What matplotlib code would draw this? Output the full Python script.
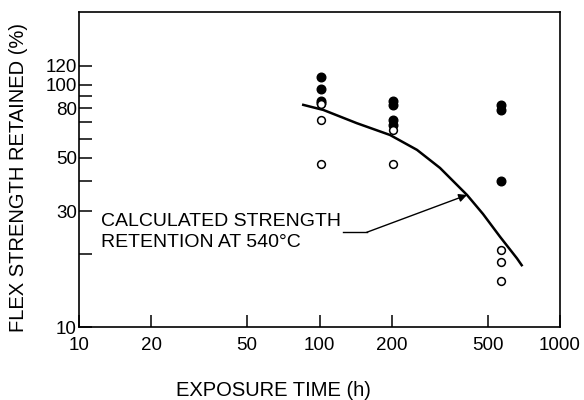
import matplotlib
matplotlib.use("Agg")
import matplotlib.pyplot as plt
from matplotlib.ticker import FixedLocator, NullFormatter

plt.rcParams['font.family'] = ['Liberation Sans', 'DejaVu Sans']

# Data
filled_time = [101, 101, 101, 101, 202, 202, 202, 202, 570, 570, 570]
filled_ret = [108, 96, 86, 84, 86, 82.7, 71.6, 68.4, 82.6, 78.9, 39.9]
open_time = [101, 101, 101, 202, 202, 570, 570, 570]
open_ret = [83, 71.5, 47.3, 65.2, 47.2, 20.8, 18.6, 15.5]
curve_time = [85.6, 103.7, 142.8, 196.4, 254.3, 316.9, 410.6, 478.4, 563, 662.5, 693]
curve_ret = [82.7, 78.8, 69.5, 62.1, 53.9, 45.4, 35.1, 29.3, 23.6, 19.2, 18.0]

xticks = [10, 20, 50, 100, 200, 500, 1000]
yticks_major = [10, 30, 50, 80, 100, 120]
yticks_minor = [20, 40, 60, 70, 90]

fig = plt.figure(figsize=(5.84, 4.0), dpi=100)
ax = fig.add_axes([79/584, 73/400, (560-79)/584, (327-12)/400])
ax.set_xscale('log')
ax.set_yscale('log')
ax.set_xlim(10, 1000)
ax.set_ylim(10, 200)

ax.plot(curve_time, curve_ret, color='black', lw=1.8, zorder=2,
        solid_joinstyle='round')
ax.plot(filled_time, filled_ret, 'o', color='black', ms=6.2, zorder=3, linestyle='none')
ax.plot(open_time, open_ret, 'o', mfc='white', mec='black', mew=1.1, ms=5.6, zorder=4, linestyle='none')

ax.xaxis.set_major_locator(FixedLocator(xticks))
ax.xaxis.set_minor_locator(FixedLocator([]))
ax.set_xticklabels([str(t) for t in xticks])
ax.yaxis.set_major_locator(FixedLocator(yticks_major))
ax.yaxis.set_minor_locator(FixedLocator(yticks_minor))
ax.set_yticklabels([str(t) for t in yticks_major])
ax.yaxis.set_minor_formatter(NullFormatter())

ax.tick_params(axis='both', which='both', direction='in', length=9, width=1.1,
               labelsize=13.5, colors='black')
ax.tick_params(axis='x', pad=7)
ax.tick_params(axis='y', pad=1.5)
for s in ax.spines.values():
    s.set_linewidth(1.2)

fig.text(273.5/584, 1 - 390/400, 'EXPOSURE TIME (h)', fontsize=14.5,
         ha='center', va='center')
fig.text(19/584, 1 - 177/400, 'FLEX STRENGTH RETAINED (%)', fontsize=14.5,
         ha='center', va='center', rotation=90)

ax.text(12.35, 24.7, 'CALCULATED STRENGTH\nRETENTION AT 540\u00b0C', fontsize=14,
        ha='left', va='center', linespacing=1.25)
ax.plot([125, 157], [24.6, 24.6], color='black', lw=1.0)
ax.annotate('', xy=(410.6, 35.1), xytext=(157, 24.6),
            arrowprops=dict(arrowstyle='-|>', color='black', lw=1.0,
                            mutation_scale=12, shrinkA=0, shrinkB=0))

fig.savefig('out.png', dpi=100)
